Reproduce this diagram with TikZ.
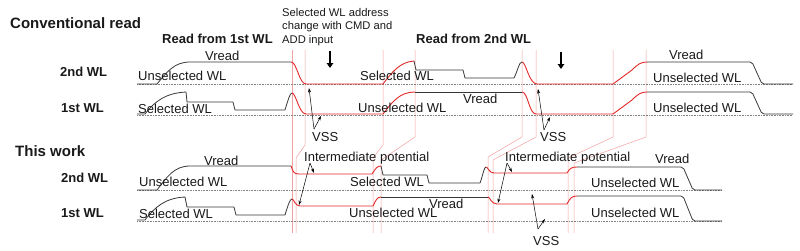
\documentclass[tikz,border=0pt]{standalone}
\usepackage{fontspec}
\setmainfont{Liberation Sans}
\usetikzlibrary{arrows.meta}
\definecolor{sig}{RGB}{55,55,55}
\definecolor{sred}{RGB}{228,40,40}
\definecolor{guide}{RGB}{242,160,160}
\definecolor{zero}{RGB}{130,130,130}
\begin{document}
\begin{tikzpicture}[x=1pt,y=-1pt,
 lbl/.style={anchor=base west, inner sep=0pt, font=\fontsize{13}{15}\selectfont, text=black!90},
 hdr/.style={lbl, font=\fontsize{15}{17}\selectfont\bfseries},
 sub/.style={lbl, font=\fontsize{13}{15}\selectfont\bfseries},
 note/.style={anchor=north west, inner sep=0pt, align=left, font=\fontsize{11.2}{13.5}\selectfont, text=black!90},
 wave/.style={sig, line width=0.8pt, line join=round},
 redwave/.style={sred, line width=0.9pt, line join=round},
 guideline/.style={guide, line width=0.5pt},
 zeroline/.style={zero, line width=0.6pt, dash pattern=on 0.8pt off 0.8pt},
 ptr/.style={black, line width=0.5pt, -{Stealth[length=4.5pt,width=3pt]}},
 bigarr/.style={black, line width=1.8pt, -{Triangle[length=5pt,width=6.5pt]}}
]
\useasboundingbox (0,0) rectangle (800,250);

% guide lines
\draw[guideline] (292,50) -- (292,233);
\draw[guideline] (305,50) -- (305,145) -- (296,158) -- (296,233);
\draw[guideline] (383,50) -- (383,145) -- (373,158) -- (373,233);
\draw[guideline] (415,50) -- (415,137) -- (381,160) -- (381,233);
\draw[guideline] (522,50) -- (522,137) -- (488,157) -- (488,233);
\draw[guideline] (536,50) -- (536,137) -- (493,160) -- (493,233);
\draw[guideline] (613,50) -- (613,137) -- (568,158) -- (568,233);
\draw[guideline] (646,50) -- (646,137) -- (574,163) -- (574,233);

% zero lines
\draw[zeroline] (137,84) -- (793,84);
\draw[zeroline] (137,115) -- (793,115);
\draw[zeroline] (137,190) -- (722,190);
\draw[zeroline] (137,221) -- (722,221);

% conventional 2nd WL
\draw[wave] (137,84) -- (157,84) .. controls (167,72) and (174,62) .. (190,62) -- (291,62);
\draw[redwave] (291,62) .. controls (297,62) and (299,84) .. (306,84) -- (383,84) .. controls (392,72) and (400,62) .. (414,61);
\draw[wave] (414,61) -- (416,70) -- (463,70) -- (465,78) -- (514,78) .. controls (518,70) and (519,62) .. (522,62);
\draw[redwave] (522,62) .. controls (526,62) and (529,84) .. (537,84) -- (613,84) -- (632,70) .. controls (638,64) and (641,62) .. (647,62);
\draw[wave, rounded corners=2pt] (647,62) -- (752,62) -- (762,84) -- (793,84);

% conventional 1st WL
\draw[wave] (137,114) -- (145,114) .. controls (155,101) and (166,93) .. (186,92) -- (187,102) -- (233,102) -- (235,110) -- (285,110) .. controls (288,100) and (290,93) .. (292,93);
\draw[redwave] (292,93) .. controls (296,93) and (299,114) .. (306,114) -- (383,114) .. controls (393,101) and (400,92) .. (415,92);
\draw[wave] (415,92) -- (522,92);
\draw[redwave] (522,92) .. controls (528,92) and (529,114) .. (536,114) -- (613,114) -- (632,100) .. controls (638,94) and (641,92) .. (647,92);
\draw[wave, rounded corners=2pt] (647,92) -- (752,92) -- (762,114) -- (793,114);

% this work 2nd WL
\draw[wave] (137,190) -- (157,190) .. controls (167,177) and (174,166) .. (190,166) -- (291,166);
\draw[redwave] (291,166) .. controls (293,172) and (294,174) .. (299,174) -- (372,174) .. controls (376,168) and (377,166) .. (381,166);
\draw[wave] (381,166) -- (383,175) -- (427,175) -- (429,183) -- (480,183) .. controls (483,175) and (484,167) .. (486,167);
\draw[redwave] (486,167) .. controls (488,167) and (489,173) .. (494,173) -- (567,173) .. controls (570,168) and (572,167) .. (577,167);
\draw[wave, rounded corners=2pt] (577,167) -- (683,167) -- (693,190) -- (722,190);

% this work 1st WL
\draw[wave] (137,220) -- (145,220) .. controls (155,207) and (165,198) .. (185,197) -- (187,207) -- (234,207) -- (236,215) -- (285,215) .. controls (288,205) and (290,199) .. (292,199);
\draw[redwave] (292,199) .. controls (294,199) and (295,206) .. (300,206) -- (373,206) .. controls (376,200) and (377,197) .. (381,197);
\draw[wave] (381,197) -- (488,197);
\draw[redwave] (488,197) .. controls (490,197) and (491,204) .. (497,204) -- (567,204) .. controls (570,198) and (572,196) .. (577,196);
\draw[wave, rounded corners=2pt] (577,196) -- (683,196) -- (693,221) -- (722,221);

% headings
\node[hdr] (conv) at (10,28) {Conventional read};
\node[hdr] (this) at (15,156) {This work};
\node[sub] (rd1) at (162,43) {Read from 1st WL};
\node[sub] (rd2) at (416,43) {Read from 2nd WL};
\node[note] (addr) at (282,8) {Selected WL address\\change with CMD and\\ADD input};
\node[sub] (c2) at (60,76) {2nd WL};
\node[sub] (c1) at (61,112) {1st WL};
\node[sub] (t2) at (61,182) {2nd WL};
\node[sub] (t1) at (61,217) {1st WL};

% conventional labels
\node[lbl] (cv1) at (205,60) {Vread};
\node[lbl] (cu1) at (138,80) {Unselected WL};
\node[lbl] (cs1) at (138,113) {Selected WL};
\node[lbl] (cs2) at (360,80) {Selected WL};
\node[lbl] (cu2) at (358,112) {Unselected WL};
\node[lbl] (cv2) at (463,103) {Vread};
\node[lbl] (cv3) at (669,59) {Vread};
\node[lbl] (cu3) at (653,82) {Unselected WL};
\node[lbl] (cu4) at (653,112) {Unselected WL};
\node[lbl] (vss1) at (312,141) {VSS};
\node[lbl] (vss2) at (540,141) {VSS};

% this work labels
\node[lbl] (tv1) at (204,165) {Vread};
\node[lbl] (tu1) at (139,186) {Unselected WL};
\node[lbl] (ts1) at (139,218) {Selected WL};
\node[lbl] (im1) at (304,161) {Intermediate potential};
\node[lbl] (ts2) at (350,186) {Selected WL};
\node[lbl] (tu2) at (349,217) {Unselected WL};
\node[lbl] (im2) at (505,161) {Intermediate potential};
\node[lbl] (tv2) at (655,163) {Vread};
\node[lbl] (tv3) at (429,208) {Vread};
\node[lbl] (tu3) at (591,187) {Unselected WL};
\node[lbl] (tu4) at (591,217) {Unselected WL};
\node[lbl] (vss3) at (533,245) {VSS};

% big down arrows
\coordinate (d1a) at (330,51); \coordinate (d1b) at (330,68);
\coordinate (d2a) at (561,52); \coordinate (d2b) at (561,69);
\draw[bigarr] (d1a) -- (d1b);
\draw[bigarr] (d2a) -- (d2b);

% pointer arrows
\coordinate (va) at (314,129); \coordinate (va1) at (309,88); \coordinate (va2) at (321,116);
\draw[ptr] (va) -- (va1); \draw[ptr] (va) -- (va2);
\coordinate (vb) at (544,130); \coordinate (vb1) at (538,89); \coordinate (vb2) at (550,117);
\draw[ptr] (vb) -- (vb1); \draw[ptr] (vb) -- (vb2);
\coordinate (ia) at (310,163); \coordinate (ia1) at (314,173); \coordinate (ia2) at (299,205);
\draw[ptr] (ia) -- (ia1); \draw[ptr] (ia) -- (ia2);
\coordinate (ib) at (507,163); \coordinate (ib1) at (512,172); \coordinate (ib2) at (498,203);
\draw[ptr] (ib) -- (ib1); \draw[ptr] (ib) -- (ib2);
\coordinate (vc) at (538,229); \coordinate (vc1) at (532,194); \coordinate (vc2) at (545,219);
\draw[ptr] (vc) -- (vc1); \draw[ptr] (vc) -- (vc2);
\end{tikzpicture}
\end{document}
